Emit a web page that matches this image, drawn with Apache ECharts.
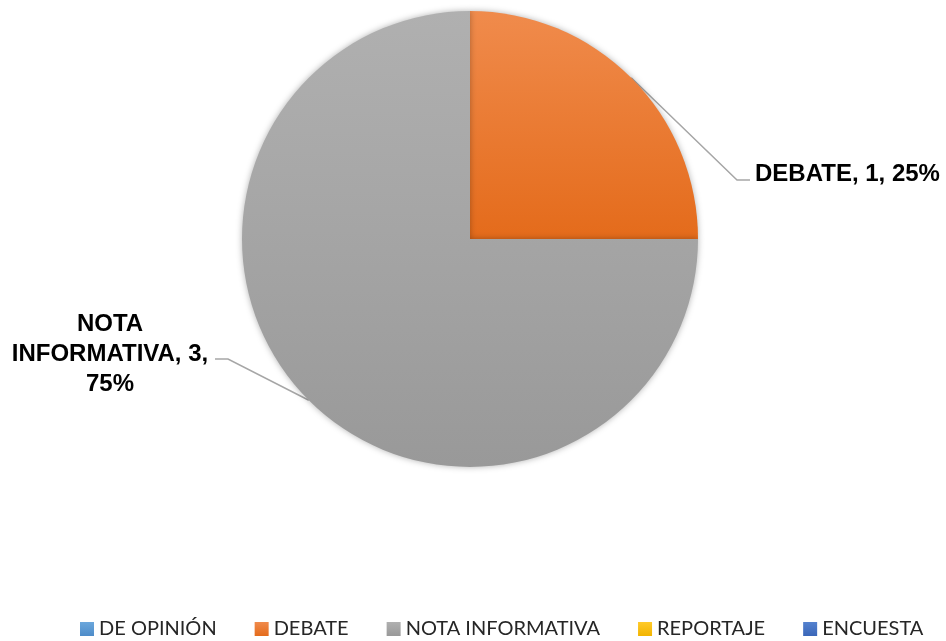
<!DOCTYPE html>
<html>
<head>
<meta charset="utf-8">
<script src="https://cdn.jsdelivr.net/npm/echarts@6/dist/echarts.min.js"></script>
<style>
html, body { margin: 0; padding: 0; background: #fff; }
#main { width: 946px; height: 641px; }
</style>
</head>
<body>
<div id="main"></div>
<script>
// datos
var categorias = ['DE OPINIÓN', 'DEBATE', 'NOTA INFORMATIVA', 'REPORTAJE', 'ENCUESTA'];
var valores = [0, 1, 3, 0, 0];
var colores = [
  ['#6BA7DC', '#4E8CC9'],
  ['#F08B4C', '#E46B1B'],
  ['#B0B0B0', '#999999'],
  ['#FFCA2A', '#F2B400'],
  ['#5582CF', '#3A66B8']
];

var data = categorias.map(function (c, i) {
  var item = {
    name: c,
    value: valores[i],
    itemStyle: {
      color: new echarts.graphic.LinearGradient(0, 0, 0, 1, [
        { offset: 0, color: colores[i][0] },
        { offset: 1, color: colores[i][1] }
      ])
    }
  };
  if (valores[i] === 0) {
    item.label = { show: false };
    item.labelLine = { show: false };
  }
  return item;
});

var option = {
  animation: false,
  legend: {
    top: 614,
    left: 80,
    padding: [5, 0],
    itemWidth: 14,
    itemHeight: 14,
    itemGap: 38,
    icon: 'rect',
    textStyle: { fontFamily: 'Lato', fontSize: 20, color: '#262626' },
    data: categorias
  },
  series: [
    {
      type: 'pie',
      center: [470, 239],
      radius: 228,
      startAngle: 90,
      clockwise: true,
      data: data,
      itemStyle: {
        shadowBlur: 6,
        shadowColor: 'rgba(0,0,0,0.3)'
      },
      label: {
        show: true,
        position: 'outside',
        fontFamily: 'Liberation Sans, Arial',
        fontWeight: 'bold',
        fontSize: 24,
        lineHeight: 30,
        color: '#000',
        formatter: function (p) {
          if (p.name === 'NOTA INFORMATIVA') {
            return 'NOTA\nINFORMATIVA, ' + p.value + ',\n' + Math.round(p.percent) + '%';
          }
          return p.name + ', ' + p.value + ', ' + Math.round(p.percent) + '%';
        }
      },
      labelLine: {
        show: true,
        lineStyle: { color: '#A6A6A6', width: 1.5 }
      },
      labelLayout: function (params) {
        var p0 = params.labelLinePoints ? params.labelLinePoints[0] : null;
        if (params.dataIndex === 1) {
          return {
            x: 755, y: 174, align: 'left', verticalAlign: 'middle',
            labelLinePoints: p0 ? [p0, [737, 180], [750, 180]] : undefined
          };
        }
        if (params.dataIndex === 2) {
          return {
            x: 110, y: 354, align: 'center', verticalAlign: 'middle',
            labelLinePoints: p0 ? [p0, [228, 359], [215, 359]] : undefined
          };
        }
        return {};
      }
    }
  ]
};

var myChart = echarts.init(document.getElementById('main'));
myChart.setOption(option);
</script>
</body>
</html>
